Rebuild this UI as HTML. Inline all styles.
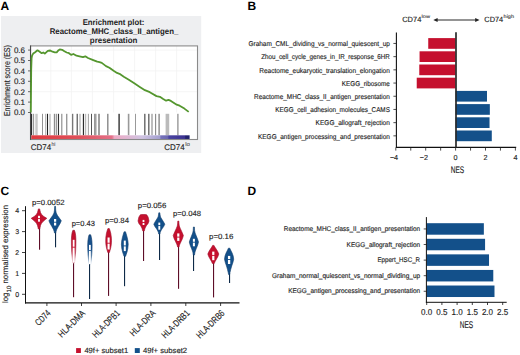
<!DOCTYPE html>
<html><head><meta charset="utf-8"><style>
html,body{margin:0;padding:0;background:#fff;width:520px;height:355px;overflow:hidden}
svg{display:block}
text{font-family:"Liberation Sans",sans-serif;text-rendering:geometricPrecision}
</style></head><body>
<svg width="520" height="355" viewBox="0 0 520 355">
<text x="0.6" y="10" font-size="12" font-weight="bold" fill="#000" >A</text>
<text x="247.6" y="10" font-size="12" font-weight="bold" fill="#000" >B</text>
<text x="0.4" y="194.8" font-size="12" font-weight="bold" fill="#000" >C</text>
<text x="247.6" y="195.2" font-size="12" font-weight="bold" fill="#000" >D</text>
<rect x="1" y="16" width="200.2" height="137" fill="#eeeff1"/>
<text x="113.5" y="24.6" font-size="8.2" text-anchor="middle" font-weight="bold" textLength="61.7" lengthAdjust="spacingAndGlyphs" fill="#222" >Enrichment plot:</text>
<text x="114" y="34.2" font-size="8.2" text-anchor="middle" font-weight="bold" textLength="128.6" lengthAdjust="spacingAndGlyphs" fill="#222" >Reactome_MHC_class_II_antigen_</text>
<text x="113.6" y="43.3" font-size="8.2" text-anchor="middle" font-weight="bold" textLength="47.6" lengthAdjust="spacingAndGlyphs" fill="#222" >presentation</text>
<rect x="30.5" y="45.5" width="167" height="94" fill="#fff"/>
<line x1="50.8" y1="46" x2="50.8" y2="112.5" stroke="#f3f3f3" stroke-width="0.8"/>
<line x1="71.4" y1="46" x2="71.4" y2="112.5" stroke="#f3f3f3" stroke-width="0.8"/>
<line x1="92.4" y1="46" x2="92.4" y2="112.5" stroke="#f3f3f3" stroke-width="0.8"/>
<line x1="113.6" y1="46" x2="113.6" y2="112.5" stroke="#f3f3f3" stroke-width="0.8"/>
<line x1="134.6" y1="46" x2="134.6" y2="112.5" stroke="#f3f3f3" stroke-width="0.8"/>
<line x1="155.6" y1="46" x2="155.6" y2="112.5" stroke="#f3f3f3" stroke-width="0.8"/>
<line x1="176.6" y1="46" x2="176.6" y2="112.5" stroke="#f3f3f3" stroke-width="0.8"/>
<line x1="31" y1="50.1" x2="197" y2="50.1" stroke="#f3f3f3" stroke-width="0.8"/>
<line x1="31" y1="70.9" x2="197" y2="70.9" stroke="#f3f3f3" stroke-width="0.8"/>
<line x1="31" y1="91.7" x2="197" y2="91.7" stroke="#f3f3f3" stroke-width="0.8"/>
<rect x="30.10" y="113.8" width="1.8" height="21.5" fill="#111"/>
<rect x="32.70" y="113.8" width="1.4" height="21.5" fill="#999"/>
<rect x="35.30" y="113.8" width="2.4" height="21.5" fill="#c8c8c8"/>
<rect x="42.05" y="113.8" width="0.9" height="21.5" fill="#888"/>
<rect x="45.05" y="113.8" width="1.1" height="21.5" fill="#bbb"/>
<rect x="46.95" y="113.8" width="1.1" height="21.5" fill="#222"/>
<rect x="49.10" y="113.8" width="1.8" height="21.5" fill="#ccc"/>
<rect x="53.85" y="113.8" width="1.1" height="21.5" fill="#888"/>
<rect x="55.70" y="113.8" width="1.4" height="21.5" fill="#999"/>
<rect x="57.95" y="113.8" width="1.1" height="21.5" fill="#333"/>
<rect x="61.25" y="113.8" width="1.1" height="21.5" fill="#888"/>
<rect x="66.00" y="113.8" width="1.4" height="21.5" fill="#999"/>
<rect x="71.90" y="113.8" width="1.4" height="21.5" fill="#777"/>
<rect x="76.65" y="113.8" width="1.1" height="21.5" fill="#444"/>
<rect x="79.30" y="113.8" width="1.4" height="21.5" fill="#bbb"/>
<rect x="82.85" y="113.8" width="1.1" height="21.5" fill="#222"/>
<rect x="84.80" y="113.8" width="1.4" height="21.5" fill="#bbb"/>
<rect x="87.90" y="113.8" width="0.8" height="21.5" fill="#888"/>
<rect x="91.00" y="113.8" width="1.0" height="21.5" fill="#555"/>
<rect x="94.15" y="113.8" width="1.1" height="21.5" fill="#888"/>
<rect x="95.10" y="113.8" width="1.4" height="21.5" fill="#999"/>
<rect x="98.30" y="113.8" width="1.4" height="21.5" fill="#777"/>
<rect x="107.10" y="113.8" width="1.4" height="21.5" fill="#888"/>
<rect x="118.40" y="113.8" width="1.4" height="21.5" fill="#333"/>
<rect x="127.80" y="113.8" width="1.6" height="21.5" fill="#999"/>
<rect x="135.00" y="113.8" width="1.0" height="21.5" fill="#999"/>
<rect x="144.10" y="113.8" width="1.4" height="21.5" fill="#666"/>
<rect x="148.10" y="113.8" width="1.4" height="21.5" fill="#666"/>
<rect x="151.45" y="113.8" width="1.1" height="21.5" fill="#888"/>
<rect x="155.05" y="113.8" width="1.1" height="21.5" fill="#888"/>
<rect x="158.40" y="113.8" width="1.4" height="21.5" fill="#888"/>
<rect x="165.60" y="113.8" width="3.6" height="21.5" fill="#bbb"/>
<rect x="177.30" y="113.8" width="1.2" height="21.5" fill="#888"/>
<defs><linearGradient id="band" x1="0" x2="1" y1="0" y2="0"><stop offset="0" stop-color="#e03a3e"/><stop offset="0.3" stop-color="#e0505a"/><stop offset="0.51" stop-color="#e47088"/><stop offset="0.525" stop-color="#eeaac4"/><stop offset="0.7" stop-color="#d0c4e2"/><stop offset="0.81" stop-color="#a4a0d0"/><stop offset="0.82" stop-color="#7672ba"/><stop offset="0.86" stop-color="#6c68b2"/><stop offset="0.87" stop-color="#4a44a0"/><stop offset="0.97" stop-color="#3c3290"/><stop offset="0.975" stop-color="#22226e"/><stop offset="1" stop-color="#22226e"/></linearGradient></defs>
<rect x="31.2" y="135.3" width="158.4" height="3.9" fill="url(#band)"/>
<rect x="30.5" y="45.9" width="167" height="93.6" fill="none" stroke="#8a8a8a" stroke-width="1.1"/>
<line x1="30.6" y1="45.5" x2="30.6" y2="139.8" stroke="#444" stroke-width="1"/>
<polyline fill="none" stroke="#54962e" stroke-width="1.8" stroke-linejoin="round" points="30.8,112.5 31.2,70.0 31.6,58.0 32.1,55.5 33.2,53.6 34.8,52.5 37.5,50.3 39,51.3 41.7,53.2 43.2,52.5 44.8,53.6 47.8,50.9 50.2,50.5 52.5,51.7 54.8,52.3 56.7,52.3 58.6,50.2 59.8,49.4 62.1,49.8 64.4,51.3 66.7,52.5 69,53.2 71.1,54.9 73.4,54.0 76.5,55.7 79.5,56.3 83,57.1 85.3,56.3 88,58.0 92.6,59.9 97.2,61.7 99.5,62.2 101.8,62.9 106,66.1 109.4,67.8 113.6,70.8 117,72.9 119.5,73.8 123.8,76.7 128.8,79.7 133.9,83.1 139.8,86.9 144.9,90.2 149.8,92.2 156.5,96.1 159.9,96.8 163.2,99.0 166.1,100.7 168.5,99.9 170.9,100.9 176.7,104.7 179.6,105.7 184.4,108.6 188.7,111.9"/>
<line x1="28" y1="50.1" x2="30.5" y2="50.1" stroke="#444" stroke-width="0.8"/>
<text x="25.0" y="52.9" font-size="8" text-anchor="end" textLength="11.1" lengthAdjust="spacingAndGlyphs" fill="#1e1e1e" stroke="#1e1e1e" stroke-width="0.14" >0.6</text>
<line x1="28" y1="60.5" x2="30.5" y2="60.5" stroke="#444" stroke-width="0.8"/>
<text x="25.0" y="63.3" font-size="8" text-anchor="end" textLength="11.1" lengthAdjust="spacingAndGlyphs" fill="#1e1e1e" stroke="#1e1e1e" stroke-width="0.14" >0.5</text>
<line x1="28" y1="70.9" x2="30.5" y2="70.9" stroke="#444" stroke-width="0.8"/>
<text x="25.0" y="73.7" font-size="8" text-anchor="end" textLength="11.1" lengthAdjust="spacingAndGlyphs" fill="#1e1e1e" stroke="#1e1e1e" stroke-width="0.14" >0.4</text>
<line x1="28" y1="81.3" x2="30.5" y2="81.3" stroke="#444" stroke-width="0.8"/>
<text x="25.0" y="84.1" font-size="8" text-anchor="end" textLength="11.1" lengthAdjust="spacingAndGlyphs" fill="#1e1e1e" stroke="#1e1e1e" stroke-width="0.14" >0.3</text>
<line x1="28" y1="91.7" x2="30.5" y2="91.7" stroke="#444" stroke-width="0.8"/>
<text x="25.0" y="94.5" font-size="8" text-anchor="end" textLength="11.1" lengthAdjust="spacingAndGlyphs" fill="#1e1e1e" stroke="#1e1e1e" stroke-width="0.14" >0.2</text>
<line x1="28" y1="102.1" x2="30.5" y2="102.1" stroke="#444" stroke-width="0.8"/>
<text x="25.0" y="104.9" font-size="8" text-anchor="end" textLength="11.1" lengthAdjust="spacingAndGlyphs" fill="#1e1e1e" stroke="#1e1e1e" stroke-width="0.14" >0.1</text>
<line x1="28" y1="112.5" x2="30.5" y2="112.5" stroke="#444" stroke-width="0.8"/>
<text x="25.0" y="115.3" font-size="8" text-anchor="end" textLength="11.1" lengthAdjust="spacingAndGlyphs" fill="#1e1e1e" stroke="#1e1e1e" stroke-width="0.14" >0.0</text>
<text transform="translate(9.6,80.6) rotate(-90)" x="0" y="0" font-size="8.6" text-anchor="middle" textLength="71" lengthAdjust="spacingAndGlyphs" fill="#1e1e1e" stroke="#1e1e1e" stroke-width="0.14" font-family="Liberation Sans, sans-serif">Enrichment score (ES)</text>
<text x="30.8" y="149.7" font-size="8.2" textLength="20.3" lengthAdjust="spacingAndGlyphs" fill="#1e1e1e" stroke="#1e1e1e" stroke-width="0.14" >CD74</text>
<text x="51.4" y="146.2" font-size="5.6" textLength="3.9" lengthAdjust="spacingAndGlyphs" fill="#666" stroke="#666" stroke-width="0.14" >hi</text>
<text x="164.3" y="149.7" font-size="8.2" textLength="20.3" lengthAdjust="spacingAndGlyphs" fill="#1e1e1e" stroke="#1e1e1e" stroke-width="0.14" >CD74</text>
<text x="185.2" y="146.2" font-size="5.6" textLength="4.8" lengthAdjust="spacingAndGlyphs" fill="#666" stroke="#666" stroke-width="0.14" >lo</text>
<text x="402.2" y="21.7" font-size="7.6" textLength="19.1" lengthAdjust="spacingAndGlyphs" fill="#1e1e1e" stroke="#1e1e1e" stroke-width="0.14" >CD74</text>
<text x="421.6" y="17.6" font-size="4.8" textLength="8.4" lengthAdjust="spacingAndGlyphs" fill="#444" stroke="#444" stroke-width="0.14" >low</text>
<text x="484.3" y="21.7" font-size="7.6" textLength="18.9" lengthAdjust="spacingAndGlyphs" fill="#1e1e1e" stroke="#1e1e1e" stroke-width="0.14" >CD74</text>
<text x="503.6" y="17.6" font-size="4.8" textLength="10.4" lengthAdjust="spacingAndGlyphs" fill="#444" stroke="#444" stroke-width="0.14" >high</text>
<line x1="436" y1="20" x2="477" y2="20" stroke="#2a2a2a" stroke-width="1.15"/>
<path d="M433.3,20 L437.6,17.9 L437.6,22.1 Z" fill="#222"/>
<path d="M479.5,20 L475.2,17.9 L475.2,22.1 Z" fill="#222"/>
<rect x="428.24" y="38.10" width="27.36" height="10.7" fill="#c5102e"/>
<line x1="393.4" y1="43.45" x2="396" y2="43.45" stroke="#222" stroke-width="0.8"/>
<text x="389.9" y="46.15" font-size="7" text-anchor="end" textLength="141.4" lengthAdjust="spacingAndGlyphs" fill="#1e1e1e" stroke="#1e1e1e" stroke-width="0.14" >Graham_CML_dividing_vs_normal_quiescent_up</text>
<rect x="419.57" y="51.30" width="36.03" height="10.7" fill="#c5102e"/>
<line x1="393.4" y1="56.65" x2="396" y2="56.65" stroke="#222" stroke-width="0.8"/>
<text x="389.9" y="59.35" font-size="7" text-anchor="end" textLength="128.7" lengthAdjust="spacingAndGlyphs" fill="#1e1e1e" stroke="#1e1e1e" stroke-width="0.14" >Zhou_cell_cycle_genes_in_IR_response_6HR</text>
<rect x="419.27" y="64.50" width="36.33" height="10.7" fill="#c5102e"/>
<line x1="393.4" y1="69.85" x2="396" y2="69.85" stroke="#222" stroke-width="0.8"/>
<text x="389.9" y="72.55" font-size="7" text-anchor="end" textLength="130.7" lengthAdjust="spacingAndGlyphs" fill="#1e1e1e" stroke="#1e1e1e" stroke-width="0.14" >Reactome_eukaryotic_translation_elongation</text>
<rect x="416.73" y="77.70" width="38.87" height="10.7" fill="#c5102e"/>
<line x1="393.4" y1="83.05" x2="396" y2="83.05" stroke="#222" stroke-width="0.8"/>
<text x="389.9" y="85.75" font-size="7" text-anchor="end" textLength="48.2" lengthAdjust="spacingAndGlyphs" fill="#1e1e1e" stroke="#1e1e1e" stroke-width="0.14" >KEGG_ribosome</text>
<rect x="455.60" y="90.90" width="31.39" height="10.7" fill="#13508a"/>
<line x1="393.4" y1="96.25" x2="396" y2="96.25" stroke="#222" stroke-width="0.8"/>
<text x="389.9" y="98.95" font-size="7" text-anchor="end" textLength="135.8" lengthAdjust="spacingAndGlyphs" fill="#1e1e1e" stroke="#1e1e1e" stroke-width="0.14" >Reactome_MHC_class_II_antigen_presentation</text>
<rect x="455.60" y="104.10" width="34.24" height="10.7" fill="#13508a"/>
<line x1="393.4" y1="109.45" x2="396" y2="109.45" stroke="#222" stroke-width="0.8"/>
<text x="389.9" y="112.15" font-size="7" text-anchor="end" textLength="114.6" lengthAdjust="spacingAndGlyphs" fill="#1e1e1e" stroke="#1e1e1e" stroke-width="0.14" >KEGG_cell_adhesion_molecules_CAMS</text>
<rect x="455.60" y="117.30" width="33.94" height="10.7" fill="#13508a"/>
<line x1="393.4" y1="122.65" x2="396" y2="122.65" stroke="#222" stroke-width="0.8"/>
<text x="389.9" y="125.35" font-size="7" text-anchor="end" textLength="74.3" lengthAdjust="spacingAndGlyphs" fill="#1e1e1e" stroke="#1e1e1e" stroke-width="0.14" >KEGG_allograft_rejection</text>
<rect x="455.60" y="130.50" width="36.18" height="10.7" fill="#13508a"/>
<line x1="393.4" y1="135.85" x2="396" y2="135.85" stroke="#222" stroke-width="0.8"/>
<text x="389.9" y="138.55" font-size="7" text-anchor="end" textLength="131.9" lengthAdjust="spacingAndGlyphs" fill="#1e1e1e" stroke="#1e1e1e" stroke-width="0.14" >KEGG_antigen_processing_and_presentation</text>
<line x1="396.4" y1="32.6" x2="396.4" y2="148" stroke="#111" stroke-width="1.1"/>
<line x1="395.9" y1="147.4" x2="516.2" y2="147.4" stroke="#111" stroke-width="1.1"/>
<line x1="456.0" y1="32.2" x2="456.0" y2="147.6" stroke="#2a2a2a" stroke-width="1.7"/>
<line x1="395.80" y1="147.6" x2="395.80" y2="150.6" stroke="#222" stroke-width="0.8"/>
<text x="394.0" y="159.6" font-size="7.2" text-anchor="middle" fill="#1e1e1e" stroke="#1e1e1e" stroke-width="0.14" >−4</text>
<line x1="410.75" y1="147.6" x2="410.75" y2="150.6" stroke="#222" stroke-width="0.8"/>
<line x1="425.70" y1="147.6" x2="425.70" y2="150.6" stroke="#222" stroke-width="0.8"/>
<text x="423.9" y="159.6" font-size="7.2" text-anchor="middle" fill="#1e1e1e" stroke="#1e1e1e" stroke-width="0.14" >−2</text>
<line x1="440.65" y1="147.6" x2="440.65" y2="150.6" stroke="#222" stroke-width="0.8"/>
<line x1="455.60" y1="147.6" x2="455.60" y2="150.6" stroke="#222" stroke-width="0.8"/>
<text x="455.6" y="159.6" font-size="7.2" text-anchor="middle" fill="#1e1e1e" stroke="#1e1e1e" stroke-width="0.14" >0</text>
<line x1="470.55" y1="147.6" x2="470.55" y2="150.6" stroke="#222" stroke-width="0.8"/>
<line x1="485.50" y1="147.6" x2="485.50" y2="150.6" stroke="#222" stroke-width="0.8"/>
<text x="485.5" y="159.6" font-size="7.2" text-anchor="middle" fill="#1e1e1e" stroke="#1e1e1e" stroke-width="0.14" >2</text>
<line x1="500.45" y1="147.6" x2="500.45" y2="150.6" stroke="#222" stroke-width="0.8"/>
<line x1="515.40" y1="147.6" x2="515.40" y2="150.6" stroke="#222" stroke-width="0.8"/>
<text x="515.4" y="159.6" font-size="7.2" text-anchor="middle" fill="#1e1e1e" stroke="#1e1e1e" stroke-width="0.14" >4</text>
<text x="457.5" y="173.1" font-size="9.6" text-anchor="middle" textLength="13.5" lengthAdjust="spacingAndGlyphs" fill="#1e1e1e" stroke="#1e1e1e" stroke-width="0.14" >NES</text>
<line x1="25.5" y1="206.2" x2="25.5" y2="303.5" stroke="#111" stroke-width="1"/>
<line x1="25" y1="302.9" x2="239.5" y2="302.9" stroke="#111" stroke-width="1.4"/>
<line x1="22" y1="210.7" x2="25.5" y2="210.7" stroke="#111" stroke-width="0.8"/>
<text x="19.2" y="213.1" font-size="7" text-anchor="end" fill="#1e1e1e" stroke="#1e1e1e" stroke-width="0.14" >4</text>
<line x1="22" y1="231.6" x2="25.5" y2="231.6" stroke="#111" stroke-width="0.8"/>
<text x="19.2" y="234.0" font-size="7" text-anchor="end" fill="#1e1e1e" stroke="#1e1e1e" stroke-width="0.14" >3</text>
<line x1="22" y1="252.5" x2="25.5" y2="252.5" stroke="#111" stroke-width="0.8"/>
<text x="19.2" y="254.9" font-size="7" text-anchor="end" fill="#1e1e1e" stroke="#1e1e1e" stroke-width="0.14" >2</text>
<line x1="22" y1="273.4" x2="25.5" y2="273.4" stroke="#111" stroke-width="0.8"/>
<text x="19.2" y="275.8" font-size="7" text-anchor="end" fill="#1e1e1e" stroke="#1e1e1e" stroke-width="0.14" >1</text>
<line x1="22" y1="294.3" x2="25.5" y2="294.3" stroke="#111" stroke-width="0.8"/>
<text x="19.2" y="296.7" font-size="7" text-anchor="end" fill="#1e1e1e" stroke="#1e1e1e" stroke-width="0.14" >0</text>
<text transform="translate(8.4,254) rotate(-90)" x="0" y="0" font-size="8" text-anchor="middle" fill="#1e1e1e" stroke="#1e1e1e" stroke-width="0.14" font-family="Liberation Sans, sans-serif" textLength="98" lengthAdjust="spacingAndGlyphs">log<tspan font-size="6.2" dy="2.6">10</tspan><tspan dy="-2.6"> normalised expression</tspan></text>
<line x1="46.9" y1="303" x2="46.9" y2="306" stroke="#111" stroke-width="0.8"/>
<text transform="translate(51.10,313.8) rotate(-45)" x="0" y="0" font-size="9.4" text-anchor="end" textLength="17.5" lengthAdjust="spacingAndGlyphs" fill="#1e1e1e" stroke="#1e1e1e" stroke-width="0.14" font-family="Liberation Sans, sans-serif">CD74</text>
<line x1="81.5" y1="303" x2="81.5" y2="306" stroke="#111" stroke-width="0.8"/>
<text transform="translate(85.90,313.8) rotate(-45)" x="0" y="0" font-size="9.4" text-anchor="end" textLength="34.1" lengthAdjust="spacingAndGlyphs" fill="#1e1e1e" stroke="#1e1e1e" stroke-width="0.14" font-family="Liberation Sans, sans-serif">HLA-DMA</text>
<line x1="116.1" y1="303" x2="116.1" y2="306" stroke="#111" stroke-width="0.8"/>
<text transform="translate(120.50,313.8) rotate(-45)" x="0" y="0" font-size="9.4" text-anchor="end" textLength="34.6" lengthAdjust="spacingAndGlyphs" fill="#1e1e1e" stroke="#1e1e1e" stroke-width="0.14" font-family="Liberation Sans, sans-serif">HLA-DPB1</text>
<line x1="150.9" y1="303" x2="150.9" y2="306" stroke="#111" stroke-width="0.8"/>
<text transform="translate(156.30,313.8) rotate(-45)" x="0" y="0" font-size="9.4" text-anchor="end" textLength="32.4" lengthAdjust="spacingAndGlyphs" fill="#1e1e1e" stroke="#1e1e1e" stroke-width="0.14" font-family="Liberation Sans, sans-serif">HLA-DRA</text>
<line x1="185.8" y1="303" x2="185.8" y2="306" stroke="#111" stroke-width="0.8"/>
<text transform="translate(190.20,313.8) rotate(-45)" x="0" y="0" font-size="9.4" text-anchor="end" textLength="35.2" lengthAdjust="spacingAndGlyphs" fill="#1e1e1e" stroke="#1e1e1e" stroke-width="0.14" font-family="Liberation Sans, sans-serif">HLA-DRB1</text>
<line x1="220.6" y1="303" x2="220.6" y2="306" stroke="#111" stroke-width="0.8"/>
<text transform="translate(225.20,313.8) rotate(-45)" x="0" y="0" font-size="9.4" text-anchor="end" textLength="35.7" lengthAdjust="spacingAndGlyphs" fill="#1e1e1e" stroke="#1e1e1e" stroke-width="0.14" font-family="Liberation Sans, sans-serif">HLA-DRB6</text>
<defs><linearGradient id="fr" x1="0" x2="0" y1="0" y2="1"><stop offset="0" stop-color="#c00e2c"/><stop offset="0.5" stop-color="#c8102e"/><stop offset="1" stop-color="#fbe0e6"/></linearGradient><linearGradient id="fb" x1="0" x2="0" y1="0" y2="1"><stop offset="0" stop-color="#164e88"/><stop offset="0.5" stop-color="#1b5591"/><stop offset="1" stop-color="#dde8f4"/></linearGradient><linearGradient id="sr" x1="0" x2="0" y1="0" y2="1"><stop offset="0" stop-color="#8a0a24"/><stop offset="0.7" stop-color="#a01a36"/><stop offset="1" stop-color="#eab8c4"/></linearGradient><linearGradient id="sb" x1="0" x2="0" y1="0" y2="1"><stop offset="0" stop-color="#0a3260"/><stop offset="0.7" stop-color="#184878"/><stop offset="1" stop-color="#b8cce4"/></linearGradient></defs>
<rect x="39" y="226" width="1.1" height="23.70" fill="#5e0e28"/>
<path d="M38.40,208.90 L38.00,210.50 L37.50,212.50 L36.40,214.50 L34.20,216.50 L31.20,218.30 L32.60,219.50 L35.00,221.50 L36.60,223.50 L37.50,225.50 L38.00,227.50 L38.30,229.00 L39.70,229.00 L40.00,227.50 L40.50,225.50 L41.40,223.50 L43.00,221.50 L45.40,219.50 L46.80,218.30 L43.80,216.50 L41.60,214.50 L40.50,212.50 L40.00,210.50 L39.60,208.90 Z" fill="#c5102e" stroke="#a00c2a" stroke-width="0.6" stroke-linejoin="round"/>
<rect x="38.05" y="215.8" width="1.9" height="2.35" fill="#fff"/>
<rect x="38.05" y="219.05" width="1.9" height="2.65" fill="#fff"/>
<rect x="55" y="231" width="1.1" height="16.30" fill="#0e2a48"/>
<path d="M54.70,206.30 L54.50,210.00 L54.00,213.00 L52.70,215.50 L50.90,218.00 L48.90,220.80 L50.10,223.50 L51.90,226.50 L53.50,229.50 L54.20,231.50 L54.50,233.00 L55.70,233.00 L56.00,231.50 L56.70,229.50 L58.30,226.50 L60.10,223.50 L61.30,220.80 L59.30,218.00 L57.50,215.50 L56.20,213.00 L55.70,210.00 L55.50,206.30 Z" fill="#13508a" stroke="#0e3c6c" stroke-width="0.6" stroke-linejoin="round"/>
<rect x="54.00" y="219" width="2.2" height="2.75" fill="#fff"/>
<rect x="54.00" y="222.65" width="2.2" height="2.85" fill="#fff"/>
<rect x="73" y="262" width="1.1" height="35.20" fill="#5e0e28"/>
<path d="M72.85,230.30 L72.15,232.50 L71.65,235.50 L71.40,239.30 L71.45,245.00 L71.65,251.00 L72.05,256.00 L72.45,260.00 L72.85,263.00 L74.45,263.00 L74.85,260.00 L75.25,256.00 L75.65,251.00 L75.85,245.00 L75.90,239.30 L75.65,235.50 L75.15,232.50 L74.45,230.30 Z" fill="url(#fr)" stroke="url(#sr)" stroke-width="0.6" stroke-linejoin="round"/>
<rect x="72.75" y="239.8" width="1.8" height="6.95" fill="#fff"/>
<rect x="72.75" y="247.65" width="1.8" height="14.35" fill="#fff"/>
<rect x="89" y="264" width="1.1" height="35.00" fill="#0e2a48"/>
<path d="M89.10,234.80 L88.40,237.50 L87.90,241.00 L87.70,244.90 L87.80,250.00 L88.10,255.00 L88.60,260.00 L89.10,264.00 L90.70,264.00 L91.20,260.00 L91.70,255.00 L92.00,250.00 L92.10,244.90 L91.90,241.00 L91.40,237.50 L90.70,234.80 Z" fill="url(#fb)" stroke="url(#sb)" stroke-width="0.6" stroke-linejoin="round"/>
<rect x="89.00" y="244.9" width="1.8" height="5.15" fill="#fff"/>
<rect x="89.00" y="250.95" width="1.8" height="13.05" fill="#fff"/>
<rect x="108" y="251" width="1.1" height="44.90" fill="#5e0e28"/>
<path d="M107.90,228.60 L107.20,230.50 L106.40,233.50 L105.90,237.00 L105.70,240.60 L105.90,244.50 L106.50,248.00 L107.20,250.50 L107.80,252.50 L109.40,252.50 L110.00,250.50 L110.70,248.00 L111.30,244.50 L111.50,240.60 L111.30,237.00 L110.80,233.50 L110.00,230.50 L109.30,228.60 Z" fill="#c5102e" stroke="#a00c2a" stroke-width="0.6" stroke-linejoin="round"/>
<rect x="107.55" y="237.5" width="2.1" height="5.25" fill="#fff"/>
<rect x="107.55" y="243.65" width="2.1" height="5.85" fill="#fff"/>
<rect x="124" y="255" width="1.1" height="31.20" fill="#0e2a48"/>
<path d="M124.10,231.80 L123.40,234.00 L122.40,237.50 L121.70,241.00 L121.40,244.30 L121.80,248.50 L122.60,252.00 L123.40,254.50 L124.00,256.30 L125.60,256.30 L126.20,254.50 L127.00,252.00 L127.80,248.50 L128.20,244.30 L127.90,241.00 L127.20,237.50 L126.20,234.00 L125.50,231.80 Z" fill="#13508a" stroke="#0e3c6c" stroke-width="0.6" stroke-linejoin="round"/>
<rect x="123.80" y="240.6" width="2.0" height="4.85" fill="#fff"/>
<rect x="123.80" y="246.35" width="2.0" height="4.75" fill="#fff"/>
<rect x="143" y="230" width="1.1" height="31.00" fill="#5e0e28"/>
<path d="M141.50,214.50 L140.30,214.80 L138.90,217.00 L138.00,221.00 L138.90,223.50 L140.70,225.80 L141.90,228.00 L142.50,230.00 L142.80,231.00 L144.20,231.00 L144.50,230.00 L145.10,228.00 L146.30,225.80 L148.10,223.50 L149.00,221.00 L148.10,217.00 L146.70,214.80 L145.50,214.50 Z" fill="#c5102e" stroke="#a00c2a" stroke-width="0.6" stroke-linejoin="round"/>
<rect x="142.60" y="219.9" width="1.8" height="2.15" fill="#fff"/>
<rect x="142.60" y="222.95" width="1.8" height="2.05" fill="#fff"/>
<rect x="159" y="233" width="1.1" height="27.00" fill="#0e2a48"/>
<path d="M158.80,212.80 L158.50,215.00 L158.10,217.00 L156.90,219.00 L155.30,221.50 L153.80,224.20 L154.90,226.50 L156.70,229.00 L157.80,231.00 L158.40,232.50 L158.70,234.00 L159.90,234.00 L160.20,232.50 L160.80,231.00 L161.90,229.00 L163.70,226.50 L164.80,224.20 L163.30,221.50 L161.70,219.00 L160.50,217.00 L160.10,215.00 L159.80,212.80 Z" fill="#13508a" stroke="#0e3c6c" stroke-width="0.6" stroke-linejoin="round"/>
<rect x="158.35" y="222.6" width="1.9" height="2.55" fill="#fff"/>
<rect x="158.35" y="226.05" width="1.9" height="3.65" fill="#fff"/>
<rect x="178" y="246" width="1.1" height="42.80" fill="#5e0e28"/>
<path d="M177.80,221.10 L177.60,224.00 L177.30,226.00 L176.30,228.50 L174.90,231.50 L173.20,235.50 L174.10,238.50 L175.50,241.50 L176.70,244.00 L177.30,245.70 L177.60,247.00 L179.00,247.00 L179.30,245.70 L179.90,244.00 L181.10,241.50 L182.50,238.50 L183.40,235.50 L181.70,231.50 L180.30,228.50 L179.30,226.00 L179.00,224.00 L178.80,221.10 Z" fill="#c5102e" stroke="#a00c2a" stroke-width="0.6" stroke-linejoin="round"/>
<rect x="177.20" y="233.4" width="2.2" height="3.25" fill="#fff"/>
<rect x="177.20" y="237.55" width="2.2" height="3.35" fill="#fff"/>
<rect x="193" y="254" width="1.1" height="17.00" fill="#0e2a48"/>
<path d="M193.40,227.00 L193.20,230.70 L192.70,233.00 L191.50,236.00 L190.30,239.00 L189.30,242.00 L190.10,245.00 L191.50,248.50 L192.50,251.00 L192.90,252.50 L193.30,255.00 L194.50,255.00 L194.90,252.50 L195.30,251.00 L196.30,248.50 L197.70,245.00 L198.50,242.00 L197.50,239.00 L196.30,236.00 L195.10,233.00 L194.60,230.70 L194.40,227.00 Z" fill="#13508a" stroke="#0e3c6c" stroke-width="0.6" stroke-linejoin="round"/>
<rect x="192.90" y="238.8" width="2.0" height="2.95" fill="#fff"/>
<rect x="192.90" y="242.65" width="2.0" height="3.65" fill="#fff"/>
<rect x="213" y="263" width="1.1" height="34.40" fill="#5e0e28"/>
<path d="M212.60,245.40 L211.80,247.00 L210.10,249.50 L208.90,251.50 L207.80,254.00 L208.70,256.50 L210.10,259.00 L211.50,261.50 L212.40,263.50 L214.20,263.50 L215.10,261.50 L216.50,259.00 L217.90,256.50 L218.80,254.00 L217.70,251.50 L216.50,249.50 L214.80,247.00 L214.00,245.40 Z" fill="#c5102e" stroke="#a00c2a" stroke-width="0.6" stroke-linejoin="round"/>
<rect x="212.20" y="251.6" width="2.2" height="3.35" fill="#fff"/>
<rect x="212.20" y="255.85" width="2.2" height="4.35" fill="#fff"/>
<rect x="229" y="273" width="1.1" height="10.00" fill="#0e2a48"/>
<path d="M228.40,248.20 L227.60,250.00 L226.10,253.00 L225.00,256.00 L224.50,259.20 L225.30,262.50 L226.50,266.00 L227.50,269.50 L228.20,272.50 L228.60,274.60 L229.60,274.60 L230.00,272.50 L230.70,269.50 L231.70,266.00 L232.90,262.50 L233.70,259.20 L233.20,256.00 L232.10,253.00 L230.60,250.00 L229.80,248.20 Z" fill="#13508a" stroke="#0e3c6c" stroke-width="0.6" stroke-linejoin="round"/>
<rect x="227.95" y="255.9" width="2.3" height="3.15" fill="#fff"/>
<rect x="227.95" y="259.95" width="2.3" height="4.05" fill="#fff"/>
<text x="32" y="204.5" font-size="7.5" textLength="32.5" lengthAdjust="spacingAndGlyphs" fill="#1e1e1e" stroke="#1e1e1e" stroke-width="0.14" >p=0.0052</text>
<text x="71.7" y="226.1" font-size="7.5" textLength="23.2" lengthAdjust="spacingAndGlyphs" fill="#1e1e1e" stroke="#1e1e1e" stroke-width="0.14" >p=0.43</text>
<text x="105" y="223.4" font-size="7.5" textLength="24" lengthAdjust="spacingAndGlyphs" fill="#1e1e1e" stroke="#1e1e1e" stroke-width="0.14" >p=0.84</text>
<text x="137.8" y="207.8" font-size="7.5" textLength="28.5" lengthAdjust="spacingAndGlyphs" fill="#1e1e1e" stroke="#1e1e1e" stroke-width="0.14" >p=0.056</text>
<text x="173.1" y="216.1" font-size="7.5" textLength="27.9" lengthAdjust="spacingAndGlyphs" fill="#1e1e1e" stroke="#1e1e1e" stroke-width="0.14" >p=0.048</text>
<text x="209" y="239" font-size="7.5" textLength="24.3" lengthAdjust="spacingAndGlyphs" fill="#1e1e1e" stroke="#1e1e1e" stroke-width="0.14" >p=0.16</text>
<rect x="76.1" y="348.1" width="4.8" height="4.9" fill="#c5102e"/>
<text x="84.4" y="353" font-size="7.6" textLength="43.8" lengthAdjust="spacingAndGlyphs" fill="#1e1e1e" stroke="#1e1e1e" stroke-width="0.14" >49f+ subset1</text>
<rect x="134.8" y="348.1" width="5" height="4.9" fill="#13508a"/>
<text x="142.9" y="353" font-size="7.6" textLength="44.2" lengthAdjust="spacingAndGlyphs" fill="#1e1e1e" stroke="#1e1e1e" stroke-width="0.14" >49f+ subset2</text>
<rect x="426.7" y="223.20" width="57.15" height="11.5" fill="#13508a"/>
<line x1="423.7" y1="228.95" x2="426.4" y2="228.95" stroke="#222" stroke-width="0.8"/>
<text x="420.1" y="231.15" font-size="6.8" text-anchor="end" textLength="136.3" lengthAdjust="spacingAndGlyphs" fill="#1e1e1e" stroke="#1e1e1e" stroke-width="0.14" >Reactome_MHC_class_II_antigen_presentation</text>
<rect x="426.7" y="238.78" width="58.37" height="11.5" fill="#13508a"/>
<line x1="423.7" y1="244.53" x2="426.4" y2="244.53" stroke="#222" stroke-width="0.8"/>
<text x="420.1" y="246.73" font-size="6.8" text-anchor="end" textLength="73.5" lengthAdjust="spacingAndGlyphs" fill="#1e1e1e" stroke="#1e1e1e" stroke-width="0.14" >KEGG_allograft_rejection</text>
<rect x="426.7" y="254.36" width="62.32" height="11.5" fill="#13508a"/>
<line x1="423.7" y1="260.11" x2="426.4" y2="260.11" stroke="#222" stroke-width="0.8"/>
<text x="420.1" y="262.31" font-size="6.8" text-anchor="end" textLength="42.7" lengthAdjust="spacingAndGlyphs" fill="#1e1e1e" stroke="#1e1e1e" stroke-width="0.14" >Eppert_HSC_R</text>
<rect x="426.7" y="269.94" width="66.58" height="11.5" fill="#13508a"/>
<line x1="423.7" y1="275.69" x2="426.4" y2="275.69" stroke="#222" stroke-width="0.8"/>
<text x="420.1" y="277.89" font-size="6.8" text-anchor="end" textLength="148.1" lengthAdjust="spacingAndGlyphs" fill="#1e1e1e" stroke="#1e1e1e" stroke-width="0.14" >Graham_normal_quiescent_vs_normal_dividing_up</text>
<rect x="426.7" y="285.52" width="67.79" height="11.5" fill="#13508a"/>
<line x1="423.7" y1="291.27" x2="426.4" y2="291.27" stroke="#222" stroke-width="0.8"/>
<text x="420.1" y="293.47" font-size="6.8" text-anchor="end" textLength="131.9" lengthAdjust="spacingAndGlyphs" fill="#1e1e1e" stroke="#1e1e1e" stroke-width="0.14" >KEGG_antigen_processing_and_presentation</text>
<line x1="426.4" y1="217.1" x2="426.4" y2="302.8" stroke="#111" stroke-width="1"/>
<line x1="425.9" y1="302.3" x2="506.7" y2="302.3" stroke="#111" stroke-width="1"/>
<line x1="426.70" y1="302.3" x2="426.70" y2="305" stroke="#111" stroke-width="0.8"/>
<text x="426.7" y="314.6" font-size="8.6" text-anchor="middle" textLength="11.2" lengthAdjust="spacingAndGlyphs" fill="#1e1e1e" stroke="#1e1e1e" stroke-width="0.14" >0.0</text>
<line x1="441.90" y1="302.3" x2="441.90" y2="305" stroke="#111" stroke-width="0.8"/>
<text x="441.9" y="314.6" font-size="8.6" text-anchor="middle" textLength="11.2" lengthAdjust="spacingAndGlyphs" fill="#1e1e1e" stroke="#1e1e1e" stroke-width="0.14" >0.5</text>
<line x1="457.10" y1="302.3" x2="457.10" y2="305" stroke="#111" stroke-width="0.8"/>
<text x="457.1" y="314.6" font-size="8.6" text-anchor="middle" textLength="11.2" lengthAdjust="spacingAndGlyphs" fill="#1e1e1e" stroke="#1e1e1e" stroke-width="0.14" >1.0</text>
<line x1="472.30" y1="302.3" x2="472.30" y2="305" stroke="#111" stroke-width="0.8"/>
<text x="472.3" y="314.6" font-size="8.6" text-anchor="middle" textLength="11.2" lengthAdjust="spacingAndGlyphs" fill="#1e1e1e" stroke="#1e1e1e" stroke-width="0.14" >1.5</text>
<line x1="487.50" y1="302.3" x2="487.50" y2="305" stroke="#111" stroke-width="0.8"/>
<text x="487.5" y="314.6" font-size="8.6" text-anchor="middle" textLength="11.2" lengthAdjust="spacingAndGlyphs" fill="#1e1e1e" stroke="#1e1e1e" stroke-width="0.14" >2.0</text>
<line x1="502.70" y1="302.3" x2="502.70" y2="305" stroke="#111" stroke-width="0.8"/>
<text x="502.7" y="314.6" font-size="8.6" text-anchor="middle" textLength="11.2" lengthAdjust="spacingAndGlyphs" fill="#1e1e1e" stroke="#1e1e1e" stroke-width="0.14" >2.5</text>
<text x="466.4" y="327.9" font-size="9.8" text-anchor="middle" textLength="13.5" lengthAdjust="spacingAndGlyphs" fill="#1e1e1e" stroke="#1e1e1e" stroke-width="0.14" >NES</text>
</svg>
</body></html>
